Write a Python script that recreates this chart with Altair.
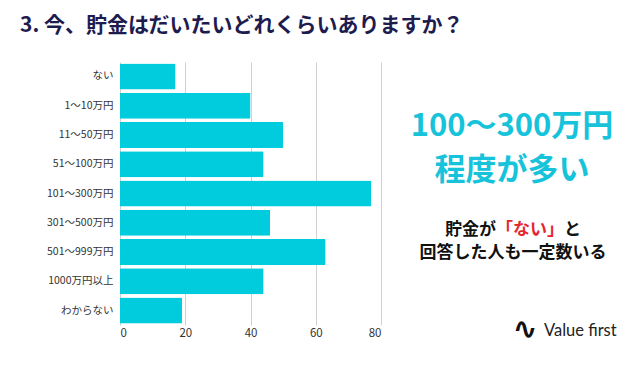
import altair as alt
import pandas as pd

categories = ["ない", "1〜10万円", "11〜50万円", "51〜100万円", "101〜300万円",
              "301〜500万円", "501〜999万円", "1000万円以上", "わからない"]
values = [17, 40, 50, 44, 77, 46, 63, 44, 19]
x_ticks = [0, 20, 40, 60, 80]

title_text = "3. 今、貯金はだいたいどれくらいありますか？"
headline_1 = "100〜300万円"
headline_2 = "程度が多い"
note_a = "貯金が"
note_b = "「ない」"
note_c = "と"
note_2 = "回答した人も一定数いる"
logo_mark = "∿"
logo_text = "Value first"

FONT = "Noto Sans CJK JP"
df = pd.DataFrame({"category": categories, "value": values})
one = pd.DataFrame({"k": [0]})

bars = alt.Chart(df).mark_bar(color="#00CCDD", cornerRadiusEnd=1).encode(
    x=alt.X("value:Q", scale=alt.Scale(domain=[0, 80]),
            axis=alt.Axis(values=x_ticks, grid=True, gridColor="#d0d0d0", domain=False,
                          ticks=False, title=None, labelFont=FONT, labelFontSize=11.5,
                          labelColor="#333333", labelPadding=2)),
    y=alt.Y("category:N", sort=categories,
            scale=alt.Scale(paddingInner=0.11, paddingOuter=0.05),
            axis=alt.Axis(title=None, domain=False, ticks=False, labelFont=FONT,
                          labelFontSize=10.5, labelColor="#333333", labelPadding=7)),
)


def txt(text, x, y, size, color, weight="bold", align="center", font=FONT):
    return alt.Chart(one).mark_text(
        text=text, font=font, fontSize=size, fontWeight=weight, color=color,
        align=align, baseline="middle"
    ).encode(x=alt.value(x), y=alt.value(y))


# plot origin is at page (120, 62)
layers = [
    bars,
    txt(title_text, -100, -36, 21, "#1e1b4f", align="left"),
    txt(headline_1, 392, 65, 31, "#17C3DA"),
    txt(headline_2, 392, 109, 31, "#17C3DA"),
    txt(note_a, 325, 168, 17, "#111111", align="left"),
    txt(note_b, 376, 168, 17, "#E5262E", align="left"),
    txt(note_c, 444, 168, 17, "#111111", align="left"),
    txt(note_2, 393, 191, 17, "#111111"),
    txt(logo_mark, 405, 268, 30, "#111111", weight="bold", font="DejaVu Sans"),
    txt(logo_text, 424, 269, 16.5, "#222222", weight="normal", align="left",
        font="Lato"),
]

chart = alt.layer(*layers).properties(
    width=261, height=263,
    autosize=alt.AutoSizeParams(type="none"),
    padding={"left": 112, "top": 54, "right": 251, "bottom": 37},
    background="white",
).configure_view(stroke=None)

chart.save("out.html", embed_options={"renderer": "svg", "actions": False})
